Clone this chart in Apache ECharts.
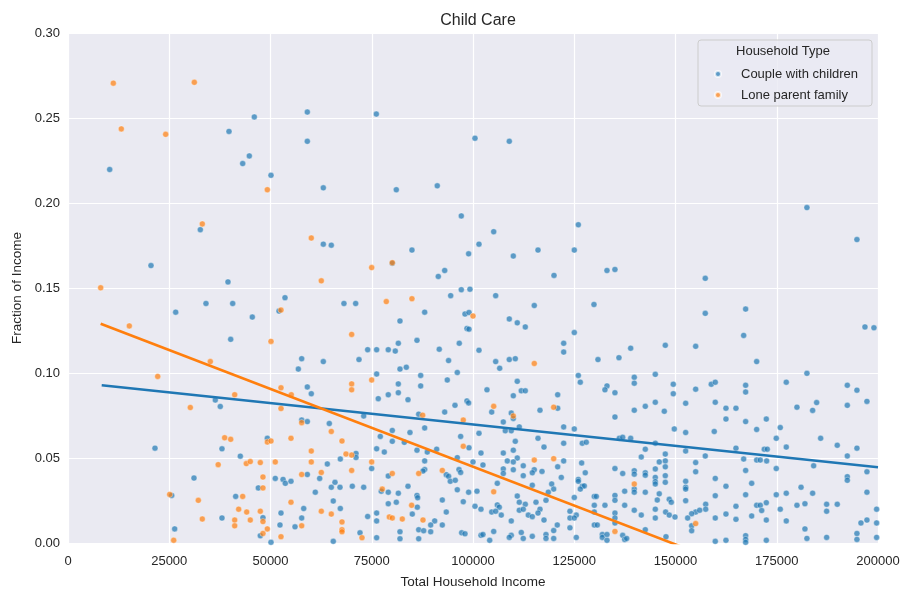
<!DOCTYPE html>
<html>
<head>
<meta charset="utf-8">
<script src="https://cdn.jsdelivr.net/npm/echarts@6/dist/echarts.min.js"></script>
<style>
html,body{margin:0;padding:0;background:#ffffff;}
#chart{width:903px;height:594px;}
</style>
</head>
<body>
<div id="chart"></div>
<script>
const chartTitle = 'Child Care';
const xAxisTitle = 'Total Household Income';
const yAxisTitle = 'Fraction of Income';
const legendTitle = 'Household Type';
const seriesNames = ['Couple with children', 'Lone parent family'];
const xTicks = [0, 25000, 50000, 75000, 100000, 125000, 150000, 175000, 200000];
const yTicks = [0.00, 0.05, 0.10, 0.15, 0.20, 0.25, 0.30];

// [Total household income, fraction of income] — Couple with children
const couplePoints = [
[10290,0.2197],[39750,0.2421],[46000,0.2506],[44770,0.2277],[43130,0.2232],[50120,0.2163],[59090,0.2535],[59090,0.2363],
[63040,0.2089],[76130,0.2523],[81060,0.2078],[91180,0.2101],[100490,0.2381],[108960,0.2363],
[32670,0.1843],[20490,0.1632],[39500,0.1536],[34070,0.1409],[40660,0.1409],[26590,0.1358],[45510,0.1329],[40170,0.1198],
[36370,0.0841],[37600,0.0803],[21480,0.0558],[38020,0.0554],[42550,0.0511],[31110,0.0382],[46990,0.0324],[25600,0.0280],
[41400,0.0274],[48140,0.0149],[38020,0.0147],[26340,0.0083],[47480,0.0043],
[97110,0.1924],[63040,0.1758],[65010,0.1752],[84930,0.1723],[98920,0.1701],[80070,0.1645],[93010,0.1603],[91430,0.1568],
[97110,0.1490],[99250,0.1493],[94490,0.1455],[53580,0.1443],[68140,0.1409],[71030,0.1409],[52100,0.1364],[88070,0.1358],
[98020,0.1347],[99010,0.1356],[81970,0.1306],[98510,0.1262],[99010,0.1258],[86170,0.1192],[81560,0.1175],[96610,0.1175],
[73990,0.1137],[76210,0.1137],[79080,0.1137],[80810,0.1129],[91670,0.1140],[57700,0.1084],[63040,0.1067],[71850,0.1079],
[93970,0.1073],[83530,0.1034],[56870,0.1023],[81970,0.1023],
[76210,0.0994],[87080,0.0986],[96120,0.1003],[59090,0.0918],[81560,0.0936],[87080,0.0924],[93650,0.0959],[60070,0.0878],
[79080,0.0872],[81560,0.0884],[76610,0.0849],[83950,0.0843],[95550,0.0810],[98510,0.0836],[98920,0.0824],[93010,0.0770],
[86590,0.0758],[73010,0.0747],[57700,0.0723],[59090,0.0714],[64520,0.0703],[88070,0.0677],[80070,0.0662],[84440,0.0650],
[96950,0.0627],[49220,0.0616],[77110,0.0627],[80070,0.0598],[83040,0.0592],[99010,0.0560],[76210,0.0554],[86170,0.0546],
[91030,0.0552],[78100,0.0535],[88710,0.0535],[71110,0.0527],[71110,0.0503],[67240,0.0494],[96120,0.0502],[88070,0.0483],
[64030,0.0465],[74980,0.0438],[88070,0.0432],[87650,0.0423],[96540,0.0432],[96950,0.0415],[59090,0.0403],[79080,0.0394],
[93400,0.0402],[93970,0.0392],[51180,0.0380],[53100,0.0374],[53660,0.0351],[55060,0.0363],[62140,0.0380],[65920,0.0357],
[94390,0.0363],[95620,0.0369],[65010,0.0328],[67160,0.0328],[70200,0.0334],[73010,0.0328],[83950,0.0334],[77350,0.0305],
[79080,0.0299],[81560,0.0293],[96120,0.0313],[98920,0.0299],[61060,0.0299],[86170,0.0280],[86340,0.0266],[92420,0.0253],
[97600,0.0243],[65500,0.0247],[79080,0.0231],[81060,0.0240],[86250,0.0211],[67240,0.0203],[58200,0.0203],[52590,0.0176],
[76210,0.0176],[85010,0.0170],[93400,0.0182],[73990,0.0156],[57700,0.0147],[76210,0.0130],[90540,0.0130],[89550,0.0106],
[92420,0.0106],[52340,0.0106],[56050,0.0095],[86590,0.0078],[87820,0.0072],[89550,0.0066],[81970,0.0066],[72100,0.0060],
[97200,0.0060],[98020,0.0054],[76210,0.0031],[81970,0.0025],[86590,0.0025],[65500,0.0010],[50120,0.0004],
[126000,0.1872],[105110,0.1831],[101480,0.1758],[109950,0.1688],[116050,0.1723],[125010,0.1723],[120000,0.1574],[133080,0.1603],
[135050,0.1609],[105600,0.1455],[115130,0.1397],[129870,0.1403],[108960,0.1318],[110930,0.1295],[112910,0.1271],[125010,0.1238],
[122390,0.1175],[122390,0.1123],[101480,0.1134],[138930,0.1146],[147480,0.1163],[105600,0.1067],[108960,0.1079],[110440,0.1084],
[130860,0.1079],[136040,0.1090],[106590,0.1028],
[126000,0.0986],[139820,0.0975],[145010,0.0992],[110930,0.0951],[126490,0.0946],[133080,0.0924],[132580,0.0901],[139820,0.0940],
[149450,0.0934],[103450,0.0901],[111920,0.0895],[112910,0.0895],[109950,0.0866],[120910,0.0872],[135050,0.0884],[149450,0.0878],
[120910,0.0793],[104620,0.0770],[109450,0.0764],[109950,0.0733],[116540,0.0781],[139820,0.0781],[142540,0.0804],[145010,0.0828],
[147230,0.0775],[135050,0.0741],[107480,0.0712],[111430,0.0683],[107970,0.0660],[109450,0.0660],[122390,0.0683],[125010,0.0671],
[101480,0.0645],[149700,0.0671],[116050,0.0616],[110440,0.0598],[126980,0.0587],[127970,0.0593],[122390,0.0587],[136120,0.0616],
[136960,0.0622],[138930,0.0616],[142540,0.0552],[145010,0.0587],[117530,0.0564],[109950,0.0546],[101970,0.0529],[107480,0.0529],
[110930,0.0500],[108470,0.0483],[109950,0.0477],[122390,0.0483],[141550,0.0506],[147480,0.0523],[145990,0.0477],[147480,0.0483],
[100000,0.0477],[102460,0.0459],[112410,0.0454],[115130,0.0431],[120910,0.0448],[126830,0.0471],[107480,0.0436],[109950,0.0431],
[135050,0.0438],[139820,0.0425],[142540,0.0413],[145010,0.0436],[147480,0.0448],[107480,0.0409],[114640,0.0413],[117040,0.0421],
[127720,0.0413],[136960,0.0409],[139820,0.0405],[142540,0.0399],[145010,0.0386],[147480,0.0396],[112410,0.0396],[121800,0.0386],
[126000,0.0374],[126000,0.0363],[145010,0.0361],[145010,0.0347],[147480,0.0357],[106000,0.0351],[114640,0.0340],[119430,0.0347],
[119920,0.0317],[126980,0.0334],[127480,0.0336],[100980,0.0305],[118590,0.0299],[126490,0.0317],[139820,0.0317],[139820,0.0299],
[137450,0.0305],[142540,0.0299],[145990,0.0289],[110930,0.0276],[129950,0.0274],[130440,0.0274],[135050,0.0280],[125010,0.0268],
[118020,0.0251],[145500,0.0253],[148460,0.0257],[111430,0.0240],[115550,0.0240],[135050,0.0251],[148960,0.0240],[100490,0.0216],
[106000,0.0224],[106490,0.0211],[112910,0.0228],[116540,0.0199],[129950,0.0222],[132580,0.0222],[137450,0.0222],[101970,0.0199],
[111430,0.0193],[112410,0.0199],[104620,0.0182],[105600,0.0187],[106980,0.0164],[123940,0.0187],[116050,0.0176],[129950,0.0182],
[135050,0.0176],[139820,0.0193],[145010,0.0199],[147560,0.0182],[113650,0.0164],[114640,0.0155],[125500,0.0164],[141550,0.0164],
[148460,0.0164],[123940,0.0147],[125010,0.0147],[135050,0.0147],[145010,0.0147],[117530,0.0135],[109450,0.0130],[135050,0.0118],
[129950,0.0106],[130690,0.0106],[120810,0.0106],[123940,0.0089],[105110,0.0068],[111920,0.0062],[119920,0.0073],[142540,0.0078],
[118020,0.0050],[101970,0.0045],[102460,0.0050],[109450,0.0045],[108960,0.0033],[114640,0.0039],[131930,0.0050],[131930,0.0033],
[133080,0.0050],[136960,0.0045],[137450,0.0021],[137940,0.0027],[104120,0.0016],[112410,0.0027],[118020,0.0027],[119920,0.0027],
[125500,0.0033],[133080,0.0016],[147650,0.0037],
[182450,0.1973],[194800,0.1785],[157350,0.1557],[157350,0.1351],[167320,0.1376],[166830,0.1221],[154980,0.1157],[170040,0.1067],
[196780,0.1271],[199000,0.1266],
[182450,0.0998],[158830,0.0934],[159820,0.0946],[154980,0.0905],[167320,0.0928],[167320,0.0888],[177350,0.0946],[192420,0.0928],
[194800,0.0899],[197270,0.0833],[192420,0.0810],[184850,0.0826],[183860,0.0780],[179990,0.0799],[152510,0.0822],[159820,0.0828],
[162460,0.0793],[164930,0.0793],[162460,0.0729],[167320,0.0714],[172420,0.0729],[152510,0.0650],[159570,0.0656],[170040,0.0668],
[175870,0.0679],[174880,0.0616],[185840,0.0616],[189940,0.0575],[194800,0.0558],[177350,0.0564],[164930,0.0558],[171920,0.0552],
[172660,0.0552],[152510,0.0541],[157350,0.0512],[166830,0.0494],[170040,0.0488],[170930,0.0488],[172500,0.0483],[192420,0.0512],
[174880,0.0438],[184110,0.0454],[197270,0.0419],[154980,0.0473],[154980,0.0419],[167320,0.0427],[192420,0.0390],[192420,0.0369],
[159820,0.0380],[152510,0.0363],[152510,0.0328],[152510,0.0317],[162460,0.0334],[168810,0.0351],[181000,0.0328],[197270,0.0299],
[177350,0.0293],[183860,0.0293],[159820,0.0278],[167320,0.0284],[174880,0.0284],[152510,0.0249],[172420,0.0237],[170040,0.0222],
[170930,0.0222],[164930,0.0216],[179990,0.0222],[181960,0.0231],[187320,0.0228],[189940,0.0228],[157450,0.0228],[157450,0.0199],
[154980,0.0182],[155970,0.0193],[153990,0.0172],[153000,0.0147],[162460,0.0170],[168810,0.0159],[171280,0.0191],[175870,0.0199],
[187320,0.0187],[199660,0.0199],[159820,0.0147],[164930,0.0139],[172420,0.0135],[177350,0.0130],[197270,0.0135],[195790,0.0118],
[199660,0.0118],[153990,0.0101],[153990,0.0072],[181960,0.0083],[194800,0.0056],[167320,0.0043],[167320,0.0021],[167320,0.0004],
[159820,0.0010],[162460,0.0016],[172420,0.0016],[182450,0.0027],[187320,0.0033],[194800,0.0021],[199660,0.0033],[149870,0.0153]
];

// [Total household income, fraction of income] — Lone parent family
const lonePoints = [
[11190,0.2705],[31190,0.2710],[13160,0.2436],[24120,0.2404],[49220,0.2078],[33160,0.1877],[8070,0.1501],[15140,0.1277],
[35140,0.1067],[22150,0.0980],[41160,0.0872],[30200,0.0797],[38680,0.0619],[40170,0.0610],[37080,0.0461],[44030,0.0467],
[45010,0.0479],[47480,0.0473],[48140,0.0388],[48140,0.0324],[25110,0.0286],[43130,0.0274],[32180,0.0251],[42140,0.0199],
[44120,0.0182],[47480,0.0187],[33160,0.0141],[41160,0.0135],[45010,0.0135],[48140,0.0126],[41160,0.0101],[48140,0.0056],
[26100,0.0016],
[60070,0.1794],[80070,0.1649],[74980,0.1620],[62540,0.1542],[78590,0.1420],[84930,0.1437],[52590,0.1370],[70040,0.1227],
[50120,0.1186],
[74980,0.0959],[70040,0.0936],[70040,0.0901],[52590,0.0913],[55130,0.0872],[52590,0.0791],[87570,0.0752],[57700,0.0708],
[97600,0.0723],[65010,0.0656],[49220,0.0594],[50120,0.0600],[55060,0.0616],[67650,0.0600],[97600,0.0569],[60070,0.0541],
[68640,0.0523],[70040,0.0517],[51180,0.0477],[60070,0.0477],[74980,0.0477],[92420,0.0427],[70040,0.0427],[86590,0.0409],
[62540,0.0415],[80070,0.0409],[57700,0.0403],[77600,0.0317],[55060,0.0240],[84850,0.0222],[62540,0.0187],[65010,0.0170],
[79330,0.0153],[80070,0.0147],[82540,0.0141],[87650,0.0135],[67650,0.0124],[57700,0.0101],[49220,0.0083],[67650,0.0078],
[67650,0.0066],[52590,0.0037],[72590,0.0031],
[100000,0.1335],[115130,0.1056],
[105110,0.0804],[119920,0.0799],[109950,0.0747],[115130,0.0488],[119920,0.0496],[139820,0.0347],[105110,0.0301],[135050,0.0068],
[154980,0.0114]
];

// Fitted regression lines (end points)
const coupleTrend = [[8320, 0.0928], [200000, 0.0446]];
const loneTrend = [[8070, 0.1290], [154980, -0.0054]];

const blue = '#1f77b4';
const orange = '#ff7f0e';
const textColor = '#262626';
const fontFamily = '"Liberation Sans", Arial, Helvetica, sans-serif';

const chart = echarts.init(document.getElementById('chart'), null, {renderer: 'canvas'});

const option = {
  animation: false,
  backgroundColor: '#ffffff',
  textStyle: {fontFamily: fontFamily, color: textColor},
  title: {
    text: chartTitle,
    left: 473, top: 8, textAlign: 'center',
    textStyle: {fontFamily: fontFamily, fontSize: 16, fontWeight: 'normal', color: textColor}
  },
  grid: {
    left: 68, right: 25, top: 33, bottom: 42,
    show: true, backgroundColor: '#EAEAF2', borderWidth: 0,
    containLabel: false
  },
  xAxis: {
    type: 'value',
    min: xTicks[0], max: xTicks[xTicks.length - 1],
    interval: xTicks[1] - xTicks[0],
    name: xAxisTitle, nameLocation: 'middle', nameGap: 32,
    nameTextStyle: {fontFamily: fontFamily, fontSize: 13.5, color: textColor},
    axisLine: {show: false}, axisTick: {show: false},
    axisLabel: {fontFamily: fontFamily, fontSize: 13, color: textColor, margin: 12,
      formatter: v => String(v)},
    splitLine: {show: true, lineStyle: {color: '#ffffff', width: 1.2}}
  },
  yAxis: {
    type: 'value',
    min: yTicks[0], max: yTicks[yTicks.length - 1],
    interval: 0.05,
    name: yAxisTitle, nameLocation: 'middle', nameGap: 42,
    nameTextStyle: {fontFamily: fontFamily, fontSize: 13.5, color: textColor},
    axisLine: {show: false}, axisTick: {show: false},
    axisLabel: {fontFamily: fontFamily, fontSize: 13, color: textColor, margin: 8,
      formatter: v => v.toFixed(2)},
    splitLine: {show: true, lineStyle: {color: '#ffffff', width: 1.2}}
  },
  legend: {
    data: seriesNames,
    orient: 'vertical',
    left: 709, top: 62,
    itemWidth: 36, itemHeight: 6, itemGap: 7,
    icon: 'circle',
    z: 60,
    textStyle: {fontFamily: fontFamily, fontSize: 13, color: textColor, lineHeight: 14}
  },
  graphic: [
    {type: 'rect', z: 50, silent: true,
      shape: {x: 698, y: 40, width: 174, height: 66, r: 3},
      style: {fill: 'rgba(234,234,242,0.8)', stroke: '#cccccc', lineWidth: 1}},
    {type: 'text', z: 55, silent: true,
      x: 783, y: 51,
      style: {text: legendTitle, fill: textColor, font: '13px ' + fontFamily,
        textAlign: 'center', textVerticalAlign: 'middle'}}
  ],
  series: [
    {
      name: seriesNames[0], type: 'scatter', data: couplePoints,
      symbolSize: 6, z: 2,
      itemStyle: {color: blue, opacity: 0.7, borderColor: '#ffffff', borderWidth: 0.5}
    },
    {
      name: seriesNames[1], type: 'scatter', data: lonePoints,
      symbolSize: 6, z: 3,
      itemStyle: {color: orange, opacity: 0.7, borderColor: '#ffffff', borderWidth: 0.5}
    },
    {
      name: 'couple-trend', type: 'line', data: coupleTrend,
      showSymbol: false, symbol: 'none', clip: true, z: 5, silent: true,
      lineStyle: {color: blue, width: 2.6}
    },
    {
      name: 'lone-trend', type: 'line', data: loneTrend,
      showSymbol: false, symbol: 'none', clip: true, z: 6, silent: true,
      lineStyle: {color: orange, width: 2.6}
    }
  ]
};

chart.setOption(option);
</script>
</body>
</html>
